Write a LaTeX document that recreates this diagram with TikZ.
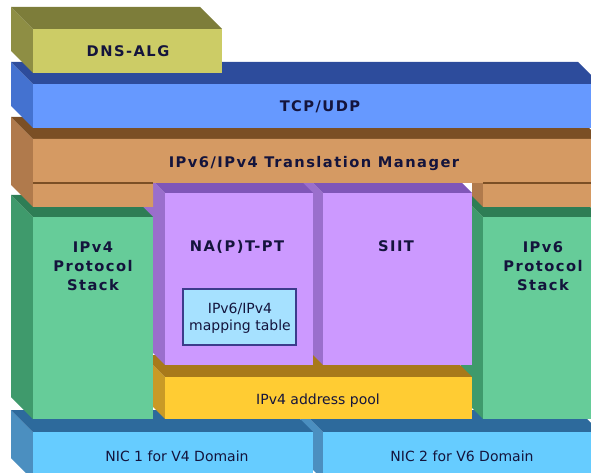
\documentclass[tikz,border=0pt]{standalone}
\usepackage{fontspec}
\setmainfont{DejaVu Sans}
\newfontfamily\lblfont[LetterSpace=10]{DejaVu Sans}

\definecolor{txt}{HTML}{14143C}
\definecolor{dnsF}{HTML}{CCCC66}\definecolor{dnsT}{HTML}{7D7D3A}\definecolor{dnsS}{HTML}{8E8E44}
\definecolor{tcpF}{HTML}{6699FF}\definecolor{tcpT}{HTML}{2D4C9C}\definecolor{tcpS}{HTML}{4472D0}
\definecolor{tmF}{HTML}{D59A63}\definecolor{tmT}{HTML}{7B4F25}\definecolor{tmS}{HTML}{B07A4C}
\definecolor{grnF}{HTML}{66CC99}\definecolor{grnT}{HTML}{2E7D55}\definecolor{grnS}{HTML}{3F9A6C}
\definecolor{purF}{HTML}{CC99FF}\definecolor{purT}{HTML}{7F56B8}\definecolor{purS}{HTML}{9A6FCC}
\definecolor{ylwF}{HTML}{FFCC33}\definecolor{ylwT}{HTML}{A8791A}\definecolor{ylwS}{HTML}{C99A26}
\definecolor{nicF}{HTML}{66CCFF}\definecolor{nicT}{HTML}{2D6A9C}\definecolor{nicS}{HTML}{4B8FC0}
\definecolor{tblF}{HTML}{A6E1FF}\definecolor{tblD}{HTML}{3C3C8C}

% box: x1,y1,x2,y2 of the front face, then front/top/side colours
\newcommand{\blok}[7]{%
  \fill[#7] (#1,#2) -- ++(-22,-22) -- ++(0,#4-#2) -- (#1,#4) -- cycle;
  \fill[#6] (#1,#2) -- ++(-22,-22) -- (#3-22,#2-22) -- (#3,#2) -- cycle;
  \fill[#5] (#1,#2) rectangle (#3,#4);
}

\tikzset{
  lbl/.style={font=\lblfont\bfseries\fontsize{11}{14.25}\selectfont, text=txt, align=center, anchor=base, inner sep=0pt},
  plain/.style={font=\fontsize{10.5}{12.75}\selectfont, text=txt, align=center, anchor=base, inner sep=0pt},
}

\begin{document}
\begin{tikzpicture}[x=0.75pt, y=-0.75pt]
\useasboundingbox (0,0) rectangle (591,473);
\clip (0,0) rectangle (591,473);

% bottom: network cards
\blok{323}{432}{600}{480}{nicF}{nicT}{nicS}
\blok{33}{432}{313}{480}{nicF}{nicT}{nicS}

% middle
\blok{483}{217}{600}{419}{grnF}{grnT}{grnS}
\blok{165}{377}{472}{419}{ylwF}{ylwT}{ylwS}
\blok{323}{193}{472}{365}{purF}{purT}{purS}
\blok{165}{193}{313}{365}{purF}{purT}{purS}
\draw[tblD, fill=tblF, line width=1pt] (183,289) rectangle (296,345);
\blok{33}{217}{153}{419}{grnF}{grnT}{grnS}

% translation manager
\fill[tmS] (33,139) -- (11,117) -- (11,185) -- (33,207) -- cycle;
\fill[tmT] (33,139) -- (11,117) -- (578,117) -- (600,139) -- cycle;
\fill[tmS] (483,183) -- (472,172) -- (472,196) -- (483,207) -- cycle;
\fill[tmF] (33,139) -- (600,139) -- (600,207) -- (483,207) -- (483,183)
  -- (153,183) -- (153,207) -- (33,207) -- cycle;
\draw[tmT, line width=0.8pt] (33,183) -- (153,183);
\draw[tmT, line width=0.8pt] (483,183) -- (600,183);

% top
\blok{33}{84}{600}{128}{tcpF}{tcpT}{tcpS}
\blok{33}{29}{222}{73}{dnsF}{dnsT}{dnsS}

% labels (base of a multi-line node = its last line)
\node (dns) at (128,57)[lbl] {DNS-ALG};
\node (tcp) at (320,112)[lbl] {TCP/UDP};
\node (tm) at (314,168)[lbl] {IPv6/IPv4 Translation Manager};
\node (napt) at (237,252)[lbl] {NA(P)T-PT};
\node (siit) at (396,252)[lbl] {SIIT};
\node (v4stack) at (93,291)[lbl] {IPv4\\Protocol\\Stack};
\node (v6stack) at (543,291)[lbl] {IPv6\\Protocol\\Stack};
\node (maptbl) at (240,330)[plain] {IPv6/IPv4\\mapping table};
\node (pool) at (318,404)[plain] {IPv4 address pool};
\node (nic1) at (177,461)[plain] {NIC 1 for V4 Domain};
\node (nic2) at (462,461)[plain] {NIC 2 for V6 Domain};
\end{tikzpicture}
\end{document}
